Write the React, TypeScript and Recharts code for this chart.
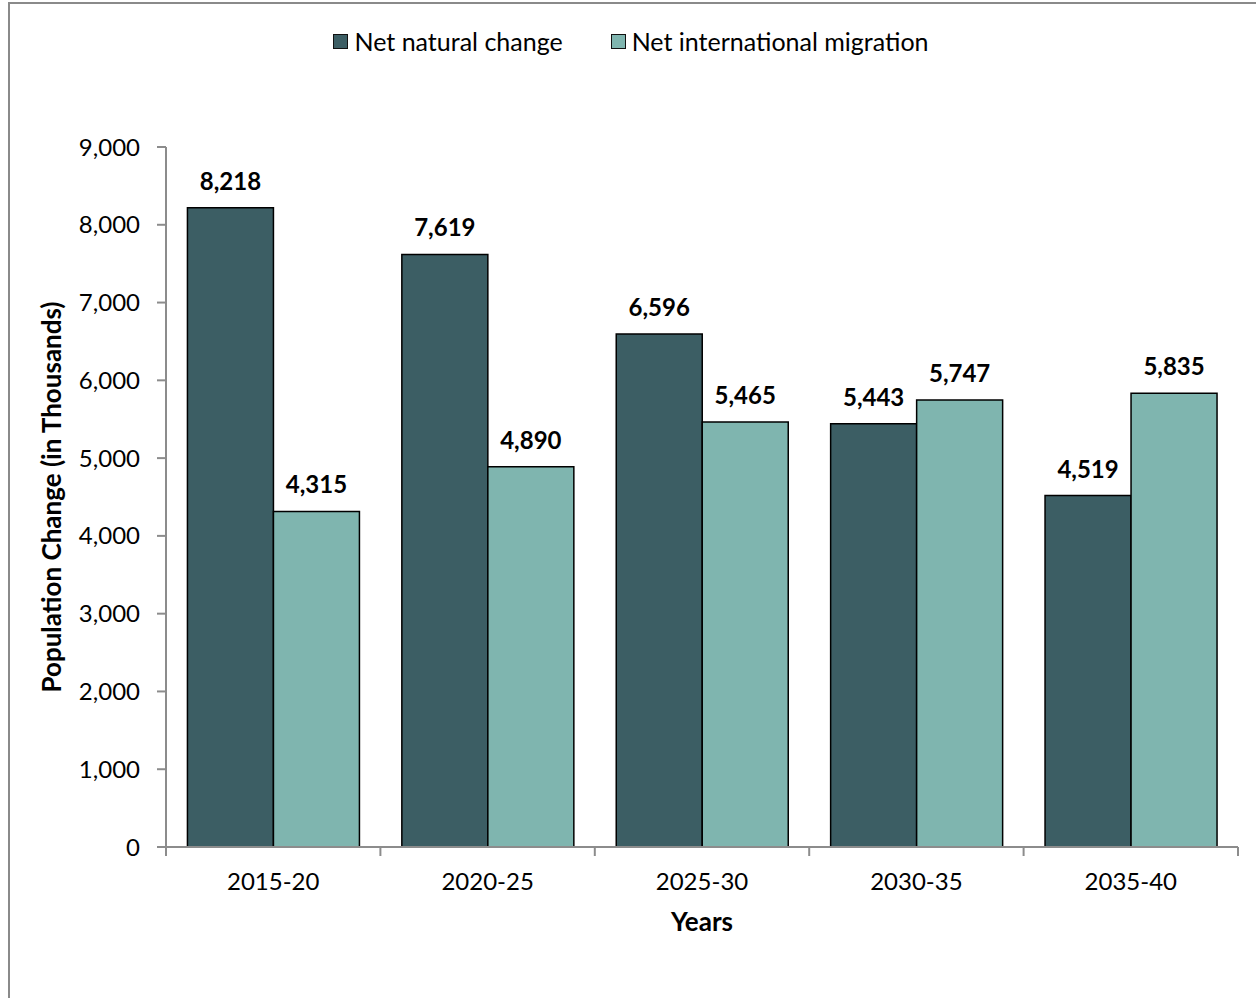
import { BarChart, Bar, XAxis, YAxis, Legend, LabelList } from 'recharts';

const periods = ['2015-20', '2020-25', '2025-30', '2030-35', '2035-40'];
const naturalChange = [8218, 7619, 6596, 5443, 4519];
const migration = [4315, 4890, 5465, 5747, 5835];
const yTicks = [0, 1000, 2000, 3000, 4000, 5000, 6000, 7000, 8000, 9000];

const series = [
  { key: 'natural', name: 'Net natural change', color: '#3C5E64' },
  { key: 'migration', name: 'Net international migration', color: '#7FB5AF' },
];

const data = periods.map((p, i) => ({ period: p, natural: naturalChange[i], migration: migration[i] }));

const FONT = 'Lato, "Open Sans", sans-serif';
const AXIS = '#8c8c8c';
const fmt = (v: number) => v.toLocaleString('en-US');

// category tick: label at band centre, tick marks at band edges (Excel style)
function PeriodTick(props: any) {
  const { x, y, payload, index, visibleTicksCount } = props;
  const half = payload.offset || 0;
  const last = index === visibleTicksCount - 1;
  return (
    <g>
      <line x1={x - half} x2={x - half} y1={y} y2={y + 9} stroke={AXIS} strokeWidth={2} />
      {last && <line x1={x + half} x2={x + half} y1={y} y2={y + 9} stroke={AXIS} strokeWidth={2} />}
      <text x={x} y={y + 26} dy="0.71em" textAnchor="middle" fill="#000" fontSize={24}>{payload.value}</text>
    </g>
  );
}

function LegendBox() {
  return (
    <div style={{ display: 'flex', justifyContent: 'center', gap: 48, fontFamily: FONT, fontSize: 25, color: '#000', paddingRight: 14 }}>
      {series.map((s) => (
        <div key={s.key} style={{ display: 'flex', alignItems: 'center' }}>
          <span style={{ width: 15, height: 15, background: s.color, border: '1.5px solid #111', marginRight: 6, boxSizing: 'border-box' }} />
          <span>{s.name}</span>
        </div>
      ))}
    </div>
  );
}

export default function App() {
  return (
    <div style={{ position: 'relative', width: 1248, height: 990 }}>
      <BarChart
        width={1248}
        height={990}
        data={data}
        barCategoryGap="10%"
        barGap={0}
        margin={{ top: 139, right: 18, left: 0, bottom: 0 }}
        style={{ fontFamily: FONT }}
      >
        <XAxis
          dataKey="period"
          height={151}
          tickLine={false}
          axisLine={{ stroke: AXIS, strokeWidth: 2 }}
          tickSize={0}
          tickMargin={0}
          tick={<PeriodTick />}
          label={{ value: 'Years', position: 'insideTop', offset: 66, fill: '#000', fontSize: 26, fontWeight: 700 }}
        />
        <YAxis
          width={158}
          domain={[0, 9000]}
          ticks={yTicks}
          tickFormatter={fmt}
          axisLine={{ stroke: AXIS, strokeWidth: 2 }}
          tickLine={{ stroke: AXIS, strokeWidth: 2 }}
          tickSize={9}
          tickMargin={17}
          tick={{ fill: '#000', fontSize: 24 }}
          label={{ value: 'Population Change (in Thousands)', angle: -90, position: 'insideLeft', offset: 44, fill: '#000', fontSize: 26, fontWeight: 700, style: { textAnchor: 'middle' } }}
        />
        <Legend verticalAlign="middle" align="center" layout="horizontal" content={<LegendBox />} wrapperStyle={{ top: 18, left: 0, width: 1260 }} />
        {series.map((s) => (
          <Bar key={s.key} dataKey={s.key} name={s.name} fill={s.color} stroke="#000" strokeWidth={1.5} isAnimationActive={false}>
            <LabelList dataKey={s.key} position="top" offset={18} formatter={(v: any) => fmt(Number(v))} style={{ fill: '#000', fontSize: 24, fontWeight: 700 }} />
          </Bar>
        ))}
      </BarChart>
      <div style={{ position: 'fixed', left: 8, top: 2, width: 1260, height: 1000, border: '2px solid #8a8a8a', boxSizing: 'border-box', zIndex: 5, pointerEvents: 'none' }} />
    </div>
  );
}
